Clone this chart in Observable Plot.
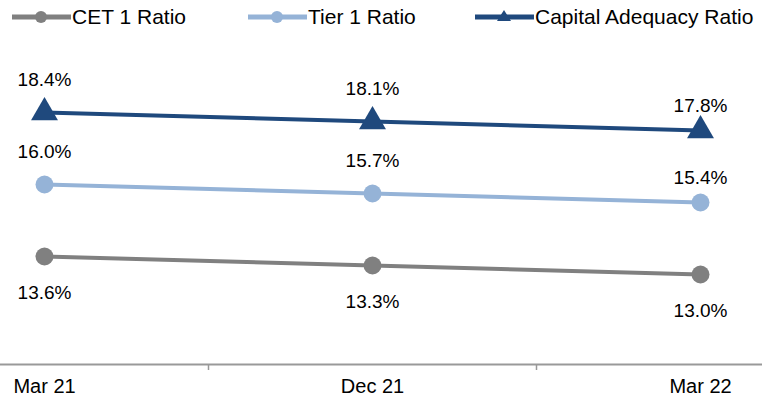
<!DOCTYPE html>
<html><head><meta charset="utf-8">
<script src="https://cdn.jsdelivr.net/npm/d3@7"></script>
<script src="https://cdn.jsdelivr.net/npm/@observablehq/plot@0.6"></script>
<style>
body{margin:0;background:#fff;font-family:"Liberation Sans",Arial,sans-serif;}
#legend{height:38px;position:relative;font-size:21px;color:#000;}
.item{position:absolute;top:5px;display:flex;align-items:center;}
.item svg{display:block;margin-right:1px;}
</style></head>
<body>
<div id="legend"></div>
<div id="chart"></div>
<script>
const periods = ["Mar 21", "Dec 21", "Mar 22"];
const seriesNames = ["CET 1 Ratio", "Tier 1 Ratio", "Capital Adequacy Ratio"];
const cet1 = [13.6, 13.3, 13.0];
const tier1 = [16.0, 15.7, 15.4];
const car = [18.4, 18.1, 17.8];
const colors = ["#808080", "#95B3D7", "#1F497D"];
const symbols = ["circle", "circle", "triangle"];

const values = [cet1, tier1, car];
const rows = [];
values.forEach((vals, s) => vals.forEach((v, i) => rows.push({series: seriesNames[s], i, period: periods[i], value: v, s})));

// legend
const legend = document.getElementById("legend");
const lx = [12, 248, 475];
seriesNames.forEach((name, s) => {
  const d = document.createElement("div");
  d.className = "item";
  d.style.left = lx[s] + "px";
  const mk = symbols[s] === "circle"
    ? `<circle cx="29" cy="12" r="6" fill="${colors[s]}"/>`
    : `<path d="M29,5 L36,16 L22,16 Z" fill="${colors[s]}"/>`;
  d.innerHTML = `<svg width="59" height="24"><line x1="0" x2="59" y1="12" y2="12" stroke="${colors[s]}" stroke-width="5"/>${mk}</svg><span>${name}</span>`;
  legend.appendChild(d);
});

const above = rows.filter(d => d.s > 0);
const below = rows.filter(d => d.s === 0);

const chart = Plot.plot({
  width: 762,
  height: 364,
  marginLeft: 0,
  marginRight: 0,
  marginTop: 26,
  marginBottom: 38,
  style: {fontFamily: "Liberation Sans, Arial, sans-serif", fontSize: "18px", color: "#000", background: "#fff"},
  x: {type: "linear", domain: [-0.5, 2.5], range: [-120, 864], axis: null, label: null},
  y: {domain: [10, 20], axis: null, label: null},
  color: {domain: seriesNames, range: colors},
  marks: [
    Plot.ruleY([10], {stroke: "#999", strokeWidth: 2}),
    Plot.axisX({ticks: [0.5, 1.5], tickFormat: () => "", tickSize: 6, stroke: "#999", strokeWidth: 1.5, label: null}),
    Plot.axisX({ticks: [0, 1, 2], tickFormat: i => periods[i], tickSize: 0, tickPadding: 14, fontSize: 20, fill: "#000", label: null}),
    Plot.line(rows, {x: "i", y: "value", z: "series", stroke: "series", strokeWidth: 4}),
    Plot.dot(rows.filter(d => d.s < 2), {x: "i", y: "value", fill: "series", r: 9, symbol: "circle"}),
    Plot.dot(rows.filter(d => d.s === 2), {x: "i", y: "value", fill: "series", r: 10, symbol: "triangle"}),
    Plot.text(above.filter(d => d.i < 2), {x: "i", y: "value", text: d => d.value.toFixed(1) + "%", dy: -33, fontSize: 19, fill: "#000"}),
    Plot.text(above.filter(d => d.i === 2), {x: "i", y: "value", text: d => d.value.toFixed(1) + "%", dy: -25, fontSize: 19, fill: "#000"}),
    Plot.text(below, {x: "i", y: "value", text: d => d.value.toFixed(1) + "%", dy: 36, fontSize: 19, fill: "#000"})
  ]
});
document.getElementById("chart").appendChild(chart);
</script>
</body></html>
